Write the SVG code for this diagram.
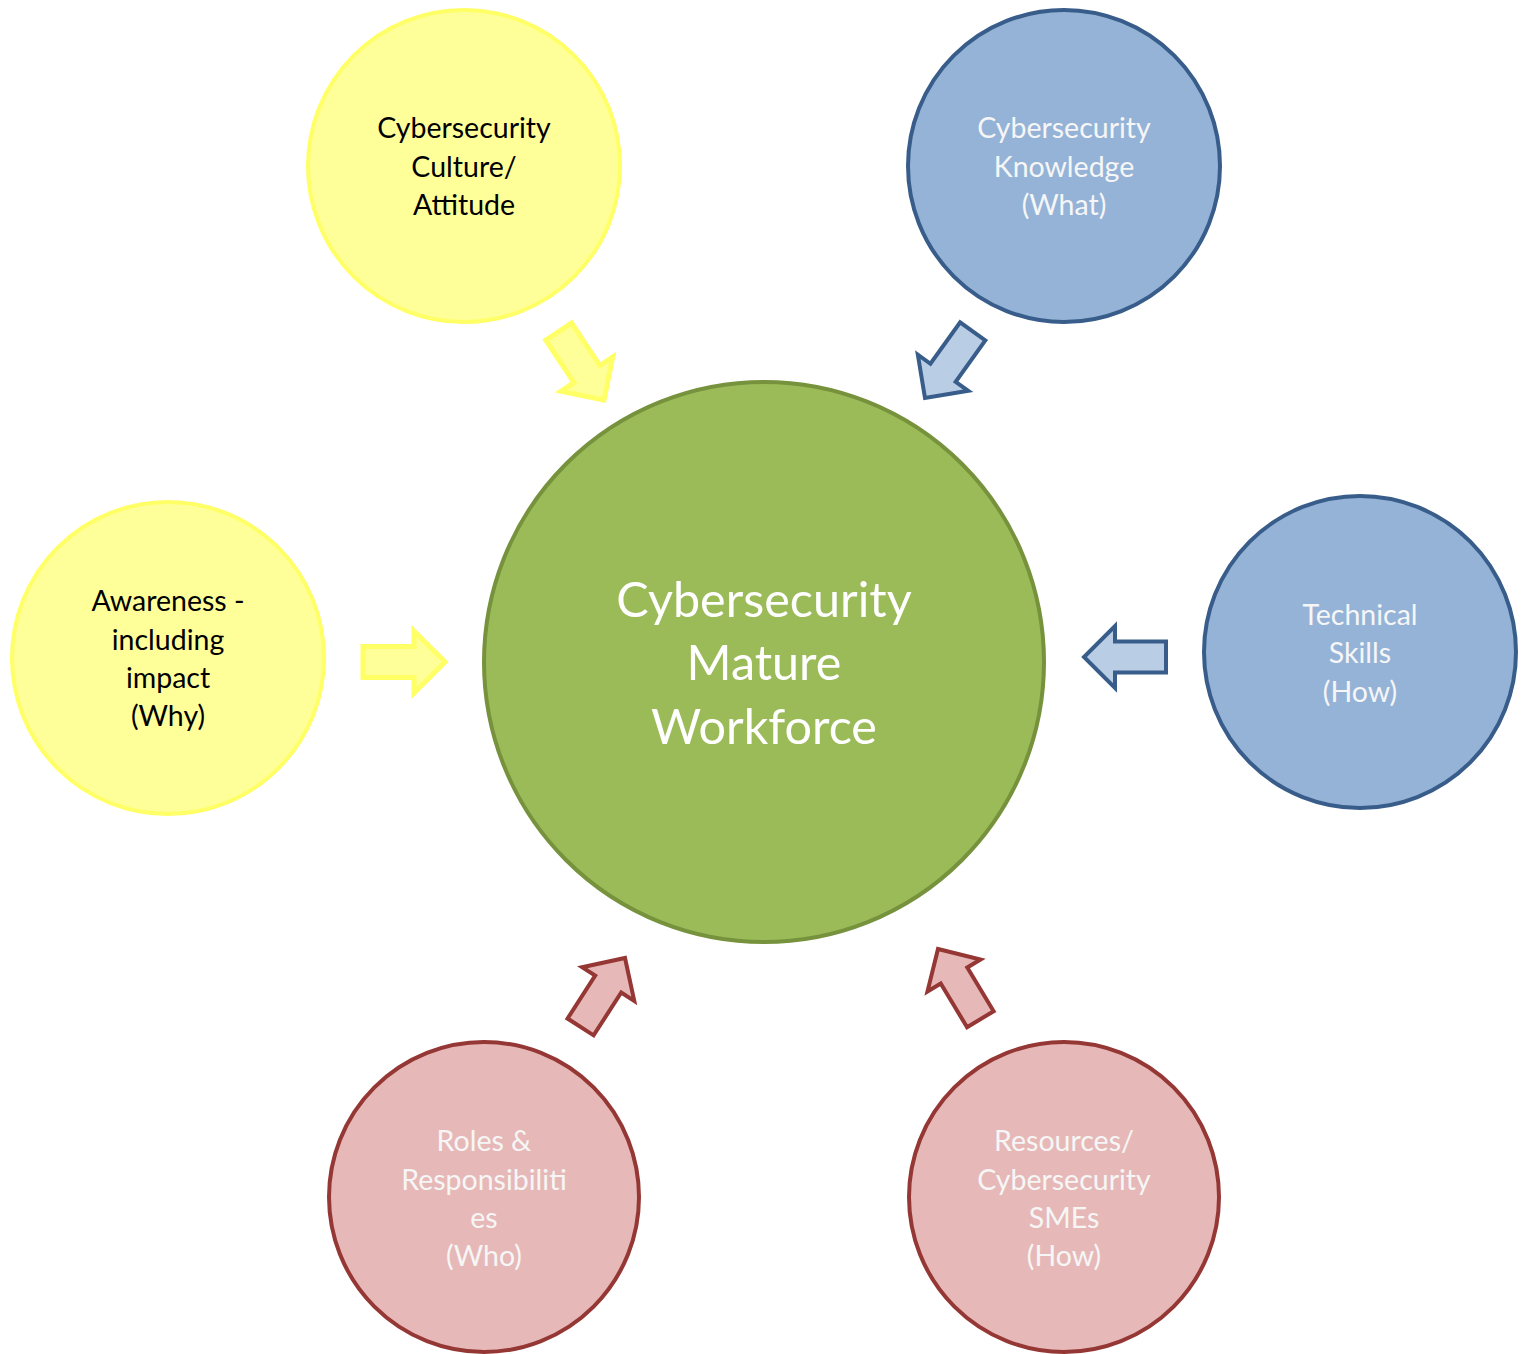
<svg xmlns="http://www.w3.org/2000/svg" width="1523" height="1354" viewBox="0 0 1523 1354">
  <style>
    text { font-family: Lato, "Open Sans", "Liberation Sans", sans-serif; text-anchor: middle; }
    .lbl { font-size: 28.5px; }
    .dark { fill: #000000; }
    .light { fill: #F6F6F6; }
    .big { font-size: 48.5px; fill: #FFFFFF; }
    .yellow { fill: #FFFF99; stroke: #FFFF66; stroke-width: 4; }
    .blue { fill: #95B3D7; stroke: #385D8A; stroke-width: 4; }
    .pink { fill: #E6B9B8; stroke: #953735; stroke-width: 4; }
    .green { fill: #9BBB59; stroke: #76923C; stroke-width: 4; }
    .ay { fill: #FFFF99; stroke: #FFFF66; stroke-width: 5; stroke-linejoin: miter; }
    .ab { fill: #B9CDE5; stroke: #385D8A; stroke-width: 4; stroke-linejoin: miter; }
    .ap { fill: #E6B9B8; stroke: #953735; stroke-width: 4; stroke-linejoin: miter; }
  </style>
  <defs>
    <!-- block arrow, tip at origin, pointing along +x -->
    <polygon id="blockArrow" points="-82,-15.5 -31,-15.5 -31,-31 0,0 -31,31 -31,15.5 -82,15.5"/>
  </defs>

  <rect width="1523" height="1354" fill="#FFFFFF"/>

  <g id="connectors">
    <use href="#blockArrow" class="ay" transform="translate(604,400) rotate(56.5)"/>
    <use href="#blockArrow" class="ab" transform="translate(925,398) rotate(125.6)"/>
    <use href="#blockArrow" class="ay" transform="translate(445,662)"/>
    <use href="#blockArrow" class="ab" transform="translate(1084,657) rotate(180)"/>
    <use href="#blockArrow" class="ap" transform="translate(625,958) rotate(-57.2)"/>
    <use href="#blockArrow" class="ap" transform="translate(938,949) rotate(-121.1)"/>
  </g>

  <g id="center">
    <circle cx="764" cy="662" r="280" class="green"/>
    <text class="big" x="764" y="617">Cybersecurity</text>
    <text class="big" x="764" y="680">Mature</text>
    <text class="big" x="764" y="744">Workforce</text>
  </g>

  <g id="culture">
    <circle cx="464" cy="166" r="156" class="yellow"/>
    <text class="lbl dark" x="464" y="138">Cybersecurity</text>
    <text class="lbl dark" x="464" y="177">Culture/</text>
    <text class="lbl dark" x="464" y="215">Attitude</text>
  </g>

  <g id="knowledge">
    <circle cx="1064" cy="166" r="156" class="blue"/>
    <text class="lbl light" x="1064" y="138">Cybersecurity</text>
    <text class="lbl light" x="1064" y="177">Knowledge</text>
    <text class="lbl light" x="1064" y="215">(What)</text>
  </g>

  <g id="awareness">
    <circle cx="168" cy="658" r="156" class="yellow"/>
    <text class="lbl dark" x="168" y="611">Awareness -</text>
    <text class="lbl dark" x="168" y="650">including</text>
    <text class="lbl dark" x="168" y="688">impact</text>
    <text class="lbl dark" x="168" y="726">(Why)</text>
  </g>

  <g id="skills">
    <circle cx="1360" cy="652" r="156" class="blue"/>
    <text class="lbl light" x="1360" y="625">Technical</text>
    <text class="lbl light" x="1360" y="663">Skills</text>
    <text class="lbl light" x="1360" y="702">(How)</text>
  </g>

  <g id="roles">
    <circle cx="484" cy="1197" r="155" class="pink"/>
    <text class="lbl light" x="484" y="1151">Roles &amp;</text>
    <text class="lbl light" x="484" y="1190">Responsibiliti</text>
    <text class="lbl light" x="484" y="1228">es</text>
    <text class="lbl light" x="484" y="1266">(Who)</text>
  </g>

  <g id="resources">
    <circle cx="1064" cy="1197" r="155" class="pink"/>
    <text class="lbl light" x="1064" y="1151">Resources/</text>
    <text class="lbl light" x="1064" y="1190">Cybersecurity</text>
    <text class="lbl light" x="1064" y="1228">SMEs</text>
    <text class="lbl light" x="1064" y="1266">(How)</text>
  </g>
</svg>
